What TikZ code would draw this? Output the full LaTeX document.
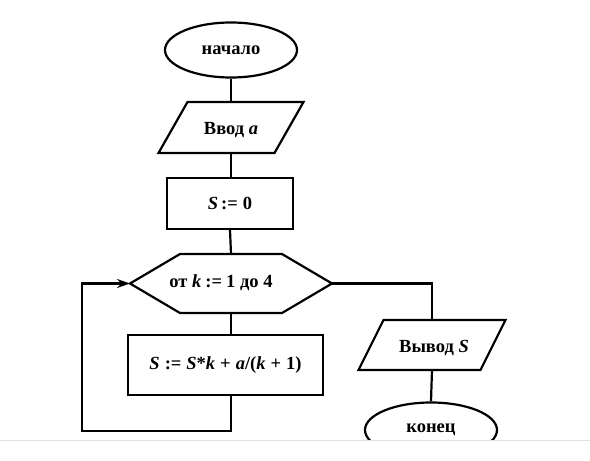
\documentclass[tikz,border=0pt]{standalone}
\usepackage{fontspec}
\setmainfont{Liberation Serif}
\usetikzlibrary{shapes.geometric,arrows.meta}
\newcommand{\vi}[1]{\textit{#1}}
\newcommand{\op}[1]{\hspace{4pt}#1\hspace{4pt}}
\newcommand{\opw}[1]{\hspace{5pt}#1\hspace{5pt}}
\begin{document}
\begin{tikzpicture}[x=1pt,y=-1pt,
  every node/.style={font=\fontsize{18.5}{22}\selectfont\bfseries},
  ln/.style={line width=2.2pt,line join=miter},
  term/.style={ellipse,draw,ln,minimum width=132,minimum height=55,inner sep=0pt},
  proc/.style={rectangle,draw,ln,inner sep=0pt},
  txt/.style={inner sep=0pt}]
\useasboundingbox (0,0) rectangle (590,461);
\begin{scope}
\clip (0,0) rectangle (590,439);
% start
\node[term] (start) at (231,50) {начало};
% input parallelogram
\coordinate (inT) at (231,102);
\coordinate (inB) at (231,153);
\draw[ln] (158.5,153) -- (187.5,102) -- (303.5,102) -- (274.5,153) -- cycle;
\node[txt] (in) at (231,130) {Ввод \vi{a}};
% S:=0
\node[proc,minimum width=126,minimum height=51] (init) at (230,203.5) {\vi{S}\hspace{3pt}:=\hspace{5pt}0};
% hexagon
\coordinate (hexL) at (130,283.5);
\coordinate (hexR) at (332,283.5);
\coordinate (hexT) at (231,254);
\coordinate (hexB) at (231,313);
\draw[ln] (hexL) -- (180,254) -- (282,254) -- (hexR) -- (282,313) -- (180,313) -- cycle;
\node[txt] (loop) at (221,283) {от \vi{k}\op{:=}1 до 4};
% body
\node[proc,minimum width=195,minimum height=60] (body) at (225.5,365) {\vi{S}\opw{:=}\vi{S}*\vi{k}\opw{+}\vi{a}/(\vi{k}\opw{+}1)};
% output parallelogram
\coordinate (outT) at (432,320);
\coordinate (outB) at (432,370);
\draw[ln] (358.5,370) -- (383.5,320) -- (505.5,320) -- (480.5,370) -- cycle;
\node[txt] (out) at (434,348) {Вывод \vi{S}};
% end
\node[term] (stop) at (431,430) {конец};
% connectors
\draw[ln] (start.south) -- (inT);
\draw[ln] (inB) -- (inB |- init.north);
\draw[ln] (init.south) -- (hexT);
\draw[ln] (hexB) -- (hexB |- body.north);
\coordinate (lb) at (82,431);
\draw[ln,-{Stealth[length=13pt,width=9pt]}] (hexB |- body.south) -- (hexB |- lb) -- (lb) |- (hexL);
\draw[ln] (hexR) -| (outT);
\draw[ln] (outB) -- (stop.north);
\end{scope}
\draw[black!12,line width=1pt] (0,440.5) -- (590,440.5);
\end{tikzpicture}
\end{document}
